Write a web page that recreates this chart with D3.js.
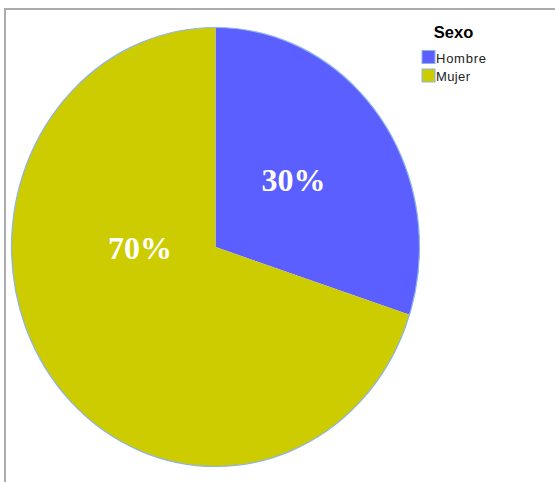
<!DOCTYPE html>
<html><head><meta charset="utf-8">
<script src="https://cdn.jsdelivr.net/npm/d3@7"></script>
<style>html,body{margin:0;padding:0;background:#fff;}svg{display:block;}</style>
</head><body>
<svg id="c" width="555" height="482"></svg>
<script>
const categories = ["Hombre", "Mujer"];
const values = [30, 70];
const sliceLabels = ["30%", "70%"];
const colors = ["#5B5FFF", "#CCCC00"];
const legendTitle = "Sexo";

const svg = d3.select("#c");
// frame
svg.append("path").attr("d", "M5,482 L5,9 L555,9").attr("fill", "none")
  .attr("stroke", "#acacac").attr("stroke-width", 2);

const cx = 215.5, cy = 247, rx = 204, ry = 219.5;
const pie = d3.pie().sort(null).value(d => d)(values);
const arc = d3.arc().innerRadius(0).outerRadius(ry);
const g = svg.append("g").attr("transform", `translate(${cx},${cy}) scale(${rx/ry},1)`);
g.selectAll("path").data(pie).join("path")
  .attr("d", arc).attr("fill", (d, i) => colors[i]);
g.append("ellipse").attr("rx", ry).attr("ry", ry).attr("fill", "none")
  .attr("stroke", "#8fb4e6").attr("stroke-width", 1.2).attr("vector-effect", "non-scaling-stroke");

// labels: placement in the slice (fraction of radius, angle within slice 0..1)
const labelRadius = [0.49, 0.37];
const labelPos = [0.475, 0.64];
svg.selectAll("text.lbl").data(pie).join("text").attr("class", "lbl")
  .each(function(d, i) {
    const a = d.startAngle + (d.endAngle - d.startAngle) * labelPos[i];
    d3.select(this)
      .attr("x", cx + Math.sin(a) * rx * labelRadius[i])
      .attr("y", cy - Math.cos(a) * ry * labelRadius[i]);
  })
  .attr("text-anchor", "middle").attr("dy", "0.35em")
  .attr("font-family", "Liberation Serif, Times New Roman, serif")
  .attr("font-weight", "bold").attr("font-size", 32).attr("fill", "#fff")
  .text((d, i) => sliceLabels[i]);

// legend
svg.append("text").attr("x", 453.5).attr("y", 38).attr("text-anchor", "middle")
  .attr("font-family", "Liberation Sans, Arial, sans-serif").attr("font-weight", "bold")
  .attr("font-size", 16.5).attr("fill", "#000").text(legendTitle);
const lg = svg.selectAll("g.leg").data(categories).join("g").attr("class", "leg")
  .attr("transform", (d, i) => `translate(422,${50.5 + i * 18.5})`);
lg.append("rect").attr("width", 13).attr("height", 13)
  .attr("fill", (d, i) => colors[i]).attr("stroke", "#8fb4e6").attr("stroke-width", 1);
lg.append("text").attr("x", 14).attr("y", 12)
  .attr("font-family", "Liberation Sans, Arial, sans-serif").attr("font-size", 13)
  .attr("fill", "#222").attr("textLength", d => d === "Hombre" ? 50 : 34).text(d => d);
</script>
</body></html>
